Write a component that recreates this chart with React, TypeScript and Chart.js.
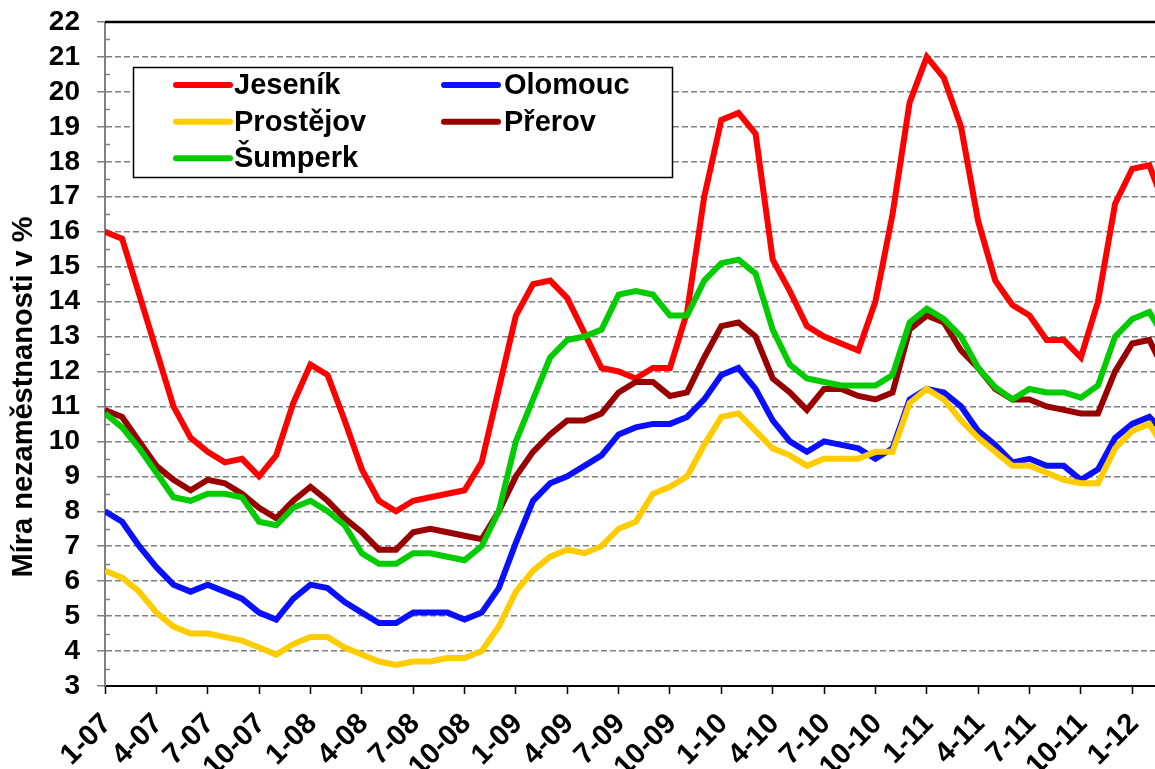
import React, { useEffect, useRef } from 'react';
import { Chart, registerables } from 'chart.js';

Chart.register(...registerables);

const monthLabels = [
  '1-07', '2-07', '3-07', '4-07', '5-07', '6-07', '7-07', '8-07', '9-07', '10-07', '11-07', '12-07',
  '1-08', '2-08', '3-08', '4-08', '5-08', '6-08', '7-08', '8-08', '9-08', '10-08', '11-08', '12-08',
  '1-09', '2-09', '3-09', '4-09', '5-09', '6-09', '7-09', '8-09', '9-09', '10-09', '11-09', '12-09',
  '1-10', '2-10', '3-10', '4-10', '5-10', '6-10', '7-10', '8-10', '9-10', '10-10', '11-10', '12-10',
  '1-11', '2-11', '3-11', '4-11', '5-11', '6-11', '7-11', '8-11', '9-11', '10-11', '11-11', '12-11',
  '1-12', '2-12', '3-12',
];

const jesenik = [
  16.0, 15.8, 14.2, 12.6, 11.0, 10.1, 9.7, 9.4, 9.5, 9.0, 9.6, 11.1,
  12.2, 11.9, 10.6, 9.2, 8.3, 8.0, 8.3, 8.4, 8.5, 8.6, 9.4, 11.5,
  13.6, 14.5, 14.6, 14.1, 13.1, 12.1, 12.0, 11.8, 12.1, 12.1, 13.7, 17.0,
  19.2, 19.4, 18.8, 15.2, 14.3, 13.3, 13.0, 12.8, 12.6, 14.0, 16.5, 19.7,
  21.0, 20.4, 19.0, 16.3, 14.6, 13.9, 13.6, 12.9, 12.9, 12.4, 14.0, 16.8,
  17.8, 17.9, 16.6,
];

const olomouc = [
  8.0, 7.7, 7.0, 6.4, 5.9, 5.7, 5.9, 5.7, 5.5, 5.1, 4.9, 5.5,
  5.9, 5.8, 5.4, 5.1, 4.8, 4.8, 5.1, 5.1, 5.1, 4.9, 5.1, 5.8,
  7.1, 8.3, 8.8, 9.0, 9.3, 9.6, 10.2, 10.4, 10.5, 10.5, 10.7, 11.2,
  11.9, 12.1, 11.5, 10.6, 10.0, 9.7, 10.0, 9.9, 9.8, 9.5, 9.8, 11.2,
  11.5, 11.4, 11.0, 10.3, 9.9, 9.4, 9.5, 9.3, 9.3, 8.9, 9.2, 10.1,
  10.5, 10.7, 10.2,
];

const prostejov = [
  6.3, 6.1, 5.7, 5.1, 4.7, 4.5, 4.5, 4.4, 4.3, 4.1, 3.9, 4.2,
  4.4, 4.4, 4.1, 3.9, 3.7, 3.6, 3.7, 3.7, 3.8, 3.8, 4.0, 4.7,
  5.7, 6.3, 6.7, 6.9, 6.8, 7.0, 7.5, 7.7, 8.5, 8.7, 9.0, 9.9,
  10.7, 10.8, 10.3, 9.8, 9.6, 9.3, 9.5, 9.5, 9.5, 9.7, 9.7, 11.1,
  11.5, 11.2, 10.6, 10.1, 9.7, 9.3, 9.3, 9.1, 8.9, 8.8, 8.8, 9.8,
  10.3, 10.5, 9.7,
];

const prerov = [
  10.9, 10.7, 10.0, 9.3, 8.9, 8.6, 8.9, 8.8, 8.5, 8.1, 7.8, 8.3,
  8.7, 8.3, 7.8, 7.4, 6.9, 6.9, 7.4, 7.5, 7.4, 7.3, 7.2, 8.0,
  9.0, 9.7, 10.2, 10.6, 10.6, 10.8, 11.4, 11.7, 11.7, 11.3, 11.4, 12.4,
  13.3, 13.4, 13.0, 11.8, 11.4, 10.9, 11.5, 11.5, 11.3, 11.2, 11.4, 13.2,
  13.6, 13.4, 12.6, 12.1, 11.5, 11.2, 11.2, 11.0, 10.9, 10.8, 10.8, 12.0,
  12.8, 12.9, 11.9,
];

const sumperk = [
  10.8, 10.4, 9.8, 9.1, 8.4, 8.3, 8.5, 8.5, 8.4, 7.7, 7.6, 8.1,
  8.3, 8.0, 7.6, 6.8, 6.5, 6.5, 6.8, 6.8, 6.7, 6.6, 7.0, 8.0,
  10.0, 11.2, 12.4, 12.9, 13.0, 13.2, 14.2, 14.3, 14.2, 13.6, 13.6, 14.6,
  15.1, 15.2, 14.8, 13.2, 12.2, 11.8, 11.7, 11.6, 11.6, 11.6, 11.9, 13.4,
  13.8, 13.5, 13.0, 12.1, 11.55, 11.2, 11.5, 11.4, 11.4, 11.25, 11.6, 13.0,
  13.5, 13.7, 12.9,
];

const seriesNames = ['Jeseník', 'Olomouc', 'Prostějov', 'Přerov', 'Šumperk'];
const seriesColors = ['#FF0000', '#0A10FF', '#FFCC00', '#990000', '#00CC00'];
const seriesValues = [jesenik, olomouc, prostejov, prerov, sumperk];

const yTitle = 'Míra nezaměstnanosti v %';
const Y_MIN = 3;
const Y_MAX = 22;
const X_MAX = 61.33;

const FONT = "'Liberation Sans', Arial, Helvetica, sans-serif";

const decorPlugin = {
  id: 'decor',
  afterDraw(chart: any) {
    const { ctx, chartArea, scales } = chart;
    const y = scales.y;
    ctx.save();
    // top border of plot area
    ctx.strokeStyle = '#000';
    ctx.lineWidth = 2.5;
    ctx.beginPath();
    ctx.moveTo(chartArea.left, chartArea.top);
    ctx.lineTo(chartArea.right, chartArea.top);
    ctx.stroke();
    // minor ticks on y axis
    ctx.strokeStyle = '#808080';
    ctx.lineWidth = 1.5;
    for (let v = Y_MIN + 0.5; v < Y_MAX; v += 1) {
      const py = Math.round(y.getPixelForValue(v)) + 0.5;
      ctx.beginPath();
      ctx.moveTo(chartArea.left, py);
      ctx.lineTo(chartArea.left + 5, py);
      ctx.stroke();
    }
    // y axis title
    ctx.save();
    ctx.translate(24, 397);
    ctx.rotate(-Math.PI / 2);
    ctx.fillStyle = '#000';
    ctx.font = `bold 29px ${FONT}`;
    ctx.textAlign = 'center';
    ctx.textBaseline = 'middle';
    ctx.fillText(yTitle, 0, 0);
    ctx.restore();
    // legend box
    const bx = 133, by = 67, bw = 539, bh = 110;
    ctx.fillStyle = '#fff';
    ctx.fillRect(bx, by, bw, bh);
    ctx.strokeStyle = '#000';
    ctx.lineWidth = 1.5;
    ctx.strokeRect(bx + 0.5, by + 0.5, bw, bh);
    const cols = [
      { lx: 176, tx: 234 },
      { lx: 444, tx: 504 },
    ];
    const rows = [85, 121.7, 158.3];
    ctx.font = `bold 29px ${FONT}`;
    ctx.textAlign = 'left';
    ctx.textBaseline = 'middle';
    seriesNames.forEach((name, i) => {
      const c = cols[i % 2];
      const r = rows[Math.floor(i / 2)];
      ctx.strokeStyle = seriesColors[i];
      ctx.lineWidth = 6;
      ctx.lineCap = 'round';
      ctx.beginPath();
      ctx.moveTo(c.lx, r);
      ctx.lineTo(c.lx + 54, r);
      ctx.stroke();
      ctx.fillStyle = '#000';
      ctx.fillText(name, c.tx, r + 1);
    });
    ctx.restore();
  },
};

export default function App() {
  const ref = useRef<HTMLCanvasElement>(null);

  useEffect(() => {
    if (!ref.current) return;
    const orders = [4, 3, 2, 1, 0];
    const chart = new Chart(ref.current, {
      type: 'line',
      data: {
        datasets: seriesValues.map((vals, s) => ({
          label: seriesNames[s],
          data: vals.map((v, i) => ({ x: i, y: v })),
          borderColor: seriesColors[s],
          backgroundColor: seriesColors[s],
          borderWidth: 6,
          pointRadius: 0,
          pointHoverRadius: 0,
          tension: 0,
          fill: false,
          order: orders[s],
          borderJoinStyle: 'miter',
          borderCapStyle: 'butt',
        })),
      },
      options: {
        responsive: false,
        animation: false,
        devicePixelRatio: 1,
        events: [],
        layout: { padding: { top: 22, right: 0, bottom: 0, left: 0 } },
        plugins: {
          legend: { display: false },
          tooltip: { enabled: false },
          title: { display: false },
        },
        scales: {
          x: {
            type: 'linear',
            min: 0,
            max: X_MAX,
            afterFit: (s: any) => {
              s.height = 83;
              s.paddingLeft = 0;
              s.paddingRight = 0;
            },
            ticks: {
              stepSize: 3,
              maxTicksLimit: 40,
              includeBounds: false,
              autoSkip: false,
              minRotation: 45,
              maxRotation: 45,
              padding: 13,
              labelOffset: 2,
              color: '#000',
              font: { family: FONT, size: 29, weight: 'bold' },
              callback: (v: any) => monthLabels[Math.round(Number(v))] ?? '',
            },
            grid: {
              display: true,
              drawOnChartArea: false,
              drawTicks: true,
              tickLength: 8,
              tickColor: '#000',
              tickWidth: 1.5,
            },
            border: { display: true, color: '#000', width: 2 },
          },
          y: {
            min: Y_MIN,
            max: Y_MAX,
            afterFit: (s: any) => {
              s.width = 105;
              s.paddingTop = 0;
              s.paddingBottom = 0;
            },
            ticks: {
              stepSize: 1,
              autoSkip: false,
              maxTicksLimit: 40,
              padding: 17,
              color: '#000',
              font: { family: FONT, size: 28, weight: 'bold' },
            },
            grid: {
              color: (c: any) =>
                c.tick && (c.tick.value === Y_MIN || c.tick.value === Y_MAX) ? 'rgba(0,0,0,0)' : '#808080',
              lineWidth: 1.5,
              drawTicks: true,
              tickLength: 8,
              tickColor: '#808080',
              tickWidth: 1.5,
              tickBorderDash: [],
            },
            border: { display: true, color: '#808080', width: 2, dash: [6, 3] },
          },
        },
      } as any,
      plugins: [decorPlugin],
    });
    return () => chart.destroy();
  }, []);

  return (
    <div
      style={{
        position: 'fixed',
        left: 0,
        top: 0,
        width: 1155,
        height: 769,
        overflow: 'hidden',
        background: '#fff',
      }}
    >
      <canvas ref={ref} width={1155} height={769} style={{ display: 'block' }} />
    </div>
  );
}
